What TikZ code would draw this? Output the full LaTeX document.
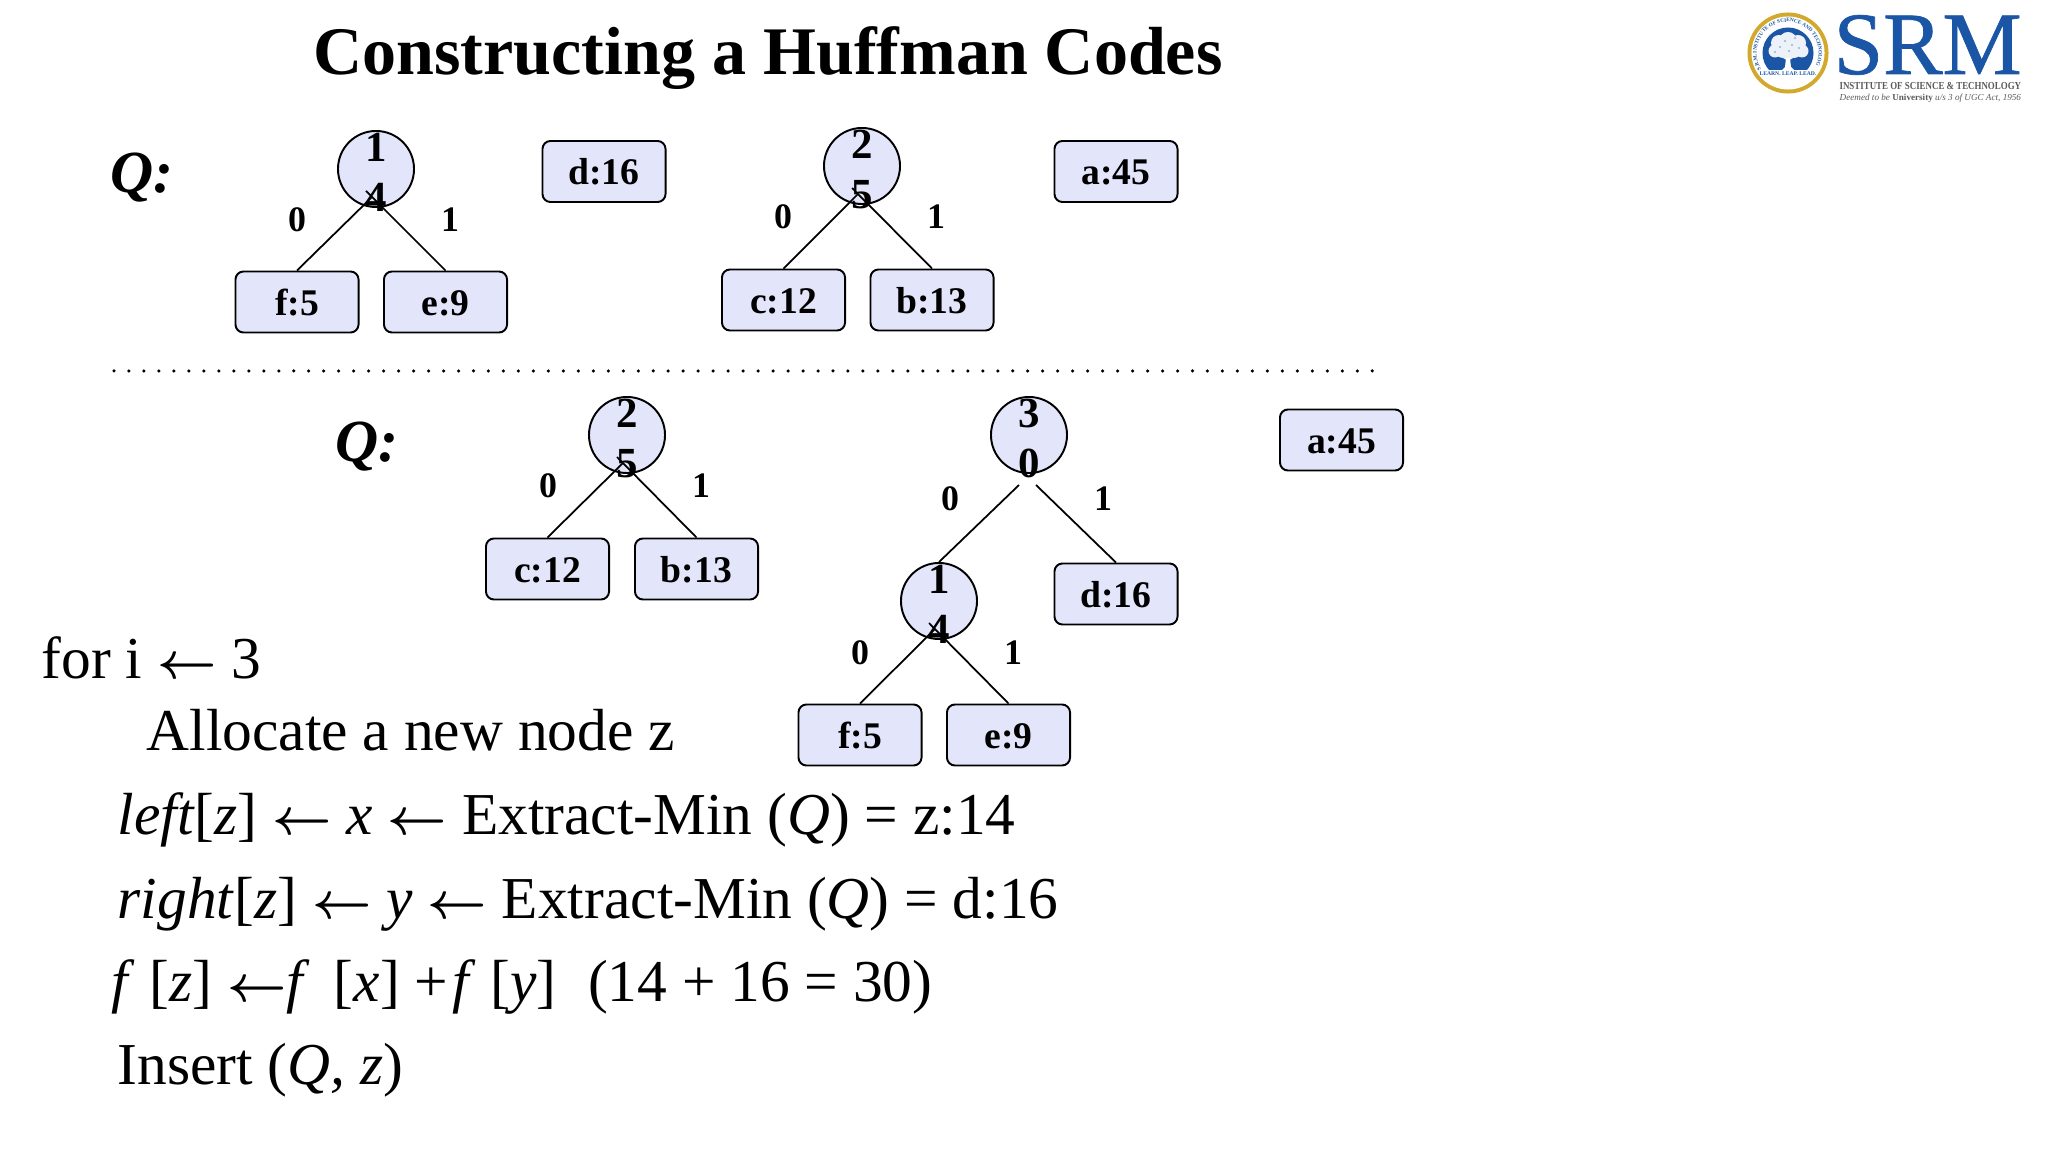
\documentclass[tikz,border=0pt]{standalone}
\usepackage{fontspec}
\usepackage{graphicx}
\setmainfont{Liberation Serif}
\newfontfamily\srmfont[FakeBold=0.8]{Liberation Serif}
\usetikzlibrary{calc,decorations.text}
\definecolor{nodefill}{HTML}{E3E5FA}
\definecolor{srmblue}{HTML}{1A55A6}
\definecolor{srmgold}{HTML}{D2A92C}
\definecolor{srmgrey}{HTML}{5A5A5E}
\newcommand{\twodigit}[2]{\smash{\raisebox{-3.9pt}{\parbox[c]{0.5cm}{\centering\fontsize{12.2}{14.2}\selectfont #1\\#2}}}}
\newcommand{\getsarrow}{\resizebox{1em}{!}{\boldmath$\leftarrow$}}
\tikzset{
  leafbox/.style={draw,fill=nodefill,rounded corners=0.08cm,line width=0.55pt,minimum width=1.23cm,minimum height=0.61cm,inner sep=0pt,text height=7.6pt,text depth=0pt,font=\bfseries\fontsize{10.7}{12}\selectfont},
  sumnode/.style={draw,circle,fill=nodefill,line width=0.55pt,minimum size=0.76cm,inner sep=0pt,font=\bfseries\fontsize{12.2}{14.2}\selectfont},
  bitlabel/.style={inner sep=0pt,font=\bfseries\fontsize{10.2}{12}\selectfont},
  queuelabel/.style={inner sep=0pt,font=\bfseries\itshape\fontsize{17}{20}\selectfont},
  codeline/.style={anchor=base west,inner sep=0pt,font=\fontsize{16.9}{20}\selectfont},
  treeedge/.style={line width=0.5pt}
}
\begin{document}
\begin{tikzpicture}[x=0.01cm,y=-0.01cm]
\useasboundingbox (0,0) rectangle (2048,1152);
\node[anchor=base,inner sep=0pt,font=\bfseries\fontsize{19.35}{22}\selectfont] (title) at (768,75) {Constructing a Huffman Codes};
% first queue
\node[queuelabel] (qone) at (142,178) {Q:};
\node[sumnode] (aroot) at (376,169) {\twodigit{1}{4}};
\node[leafbox] (af) at (297,302) {f:5};
\node[leafbox] (ae) at (445.5,302) {e:9};
\node[bitlabel] (azero) at (297,220) {0};
\node[bitlabel] (aone) at (450,220) {1};
\node[leafbox] (ad) at (604,171.5) {d:16};
\node[sumnode] (broot) at (862,166) {\twodigit{2}{5}};
\node[leafbox] (bc) at (783.5,300) {c:12};
\node[leafbox] (bb) at (932,300) {b:13};
\node[bitlabel] (bzero) at (783,217) {0};
\node[bitlabel] (bone) at (936,217) {1};
\node[leafbox] (ba) at (1116,171.5) {a:45};
\draw[treeedge] ($(aroot)+(-4,28)$) -- (af.north);
\draw[treeedge] ($(aroot)+(-10,22)$) -- (ae.north);
\draw[treeedge] ($(broot)+(-4,28)$) -- (bc.north);
\draw[treeedge] ($(broot)+(-10,22)$) -- (bb.north);
% separator
\coordinate (dotsa) at (114,371);
\coordinate (dotsb) at (1376,371);
\draw[line width=0.035cm,line cap=round,dash pattern=on 0pt off 0.1497cm] (dotsa) -- (dotsb);
% second queue
\node[queuelabel] (qtwo) at (367,447) {Q:};
\node[sumnode] (croot) at (627,435) {\twodigit{2}{5}};
\node[leafbox] (cc) at (547.5,569) {c:12};
\node[leafbox] (cb) at (696.5,569) {b:13};
\node[bitlabel] (czero) at (548,486) {0};
\node[bitlabel] (cone) at (701,486) {1};
\draw[treeedge] ($(croot)+(-4,28)$) -- (cc.north);
\draw[treeedge] ($(croot)+(-10,22)$) -- (cb.north);
\node[sumnode] (droot) at (1029,435) {\twodigit{3}{0}};
\node[sumnode] (dsub) at (939,601) {\twodigit{1}{4}};
\node[leafbox] (dd) at (1116,594) {d:16};
\node[leafbox] (df) at (860,735) {f:5};
\node[leafbox] (de) at (1008.5,735) {e:9};
\node[leafbox] (da) at (1341.5,440) {a:45};
\node[bitlabel] (dzero) at (950,499) {0};
\node[bitlabel] (done) at (1103,499) {1};
\node[bitlabel] (dsubzero) at (860,653) {0};
\node[bitlabel] (dsubone) at (1013,653) {1};
\coordinate (dleft) at (1019,485);
\coordinate (dright) at (1036,485);
\draw[treeedge] (dleft) -- (dsub.north);
\draw[treeedge] (dright) -- (dd.north);
\draw[treeedge] ($(dsub)+(-4,28)$) -- (df.north);
\draw[treeedge] ($(dsub)+(-10,22)$) -- (de.north);
% pseudo code
\node[codeline] (lfor) at (41,678) {for i \getsarrow{} 3};
\node[codeline] (lalloc) at (146,750) {Allocate a new node z};
\node[codeline] (lleft) at (117,834) {\textit{left}[\textit{z}] \getsarrow{} \textit{x} \getsarrow{} Extract-Min (\textit{Q}) = z:14};
\node[codeline] (lright) at (117,918) {\textit{right}[\textit{z}] \getsarrow{} \textit{y} \getsarrow{} Extract-Min (\textit{Q}) = d:16};
\node[codeline] (lsum) at (111,1001) {\textit{f }[\textit{z}] \getsarrow{}\textit{f }\kern2.5pt[\textit{x}] +\kern1.2pt\textit{f }[\textit{y}]~~\kern0.5pt(14 + 16 = 30)};
\node[codeline] (linsert) at (117,1084) {Insert (\textit{Q, z})};
% logo
\begin{scope}[shift={(1788,53)},y=0.01cm]
\fill[srmgold] (0,0) circle (0.405cm);
\fill[white] (0,0) circle (0.365cm);
\fill[srmblue] (0,0) circle (0.255cm);
\fill[white] (-24,-17) rectangle (24,-28);
\foreach \cx/\cy/\cr in {0/12/0.09,-9/10/0.08,10/10/0.08,-13/2/0.065,14/2/0.065,-5/3/0.08,6/3/0.08,0/0/0.07}
  \fill[white!92!srmblue] (\cx,\cy) circle (\cr cm);
\fill[white] (-2,-5) -- (2,-5) -- (3,-14) -- (6,-17) -- (-6,-17) -- (-3,-14) -- cycle;
\foreach \cx/\cy in {-8/6,-3/12,4/8,11/5,-13/1,7/15,1/2}
  \fill[srmblue!45] (\cx,\cy) circle (0.012cm);
\path[decorate,decoration={text along path,text align=center,text color=srmblue,text={|\fontsize{1.5}{2}\selectfont\bfseries|S.R.M. INSTITUTE OF SCIENCE AND TECHNOLOGY}}] (-28,-14) arc[start angle=207,end angle=-27,radius=0.31cm];
\node[inner sep=0pt,text=srmblue,font=\fontsize{1.6}{2}\selectfont\bfseries] (logomotto) at (0,-21) {LEARN. LEAP. LEAD.};
\end{scope}
\node[anchor=base west,inner sep=0pt,text=srmblue,font=\srmfont\fontsize{25.3}{27}\selectfont] (logoname) at (1833,74) {SRM};
\node[anchor=base west,inner sep=0pt,text=srmgrey,transform shape,xscale=0.83,font=\bfseries\fontsize{3.05}{4}\selectfont] (logoinst) at (1839,90) {INSTITUTE OF SCIENCE \& TECHNOLOGY};
\node[anchor=base west,inner sep=0pt,text=srmgrey,font=\itshape\fontsize{2.6}{4}\selectfont] (logoact) at (1839,101) {Deemed to be \textbf{\textup{University}} u/s 3 of UGC Act, 1956};
\end{tikzpicture}
\end{document}
